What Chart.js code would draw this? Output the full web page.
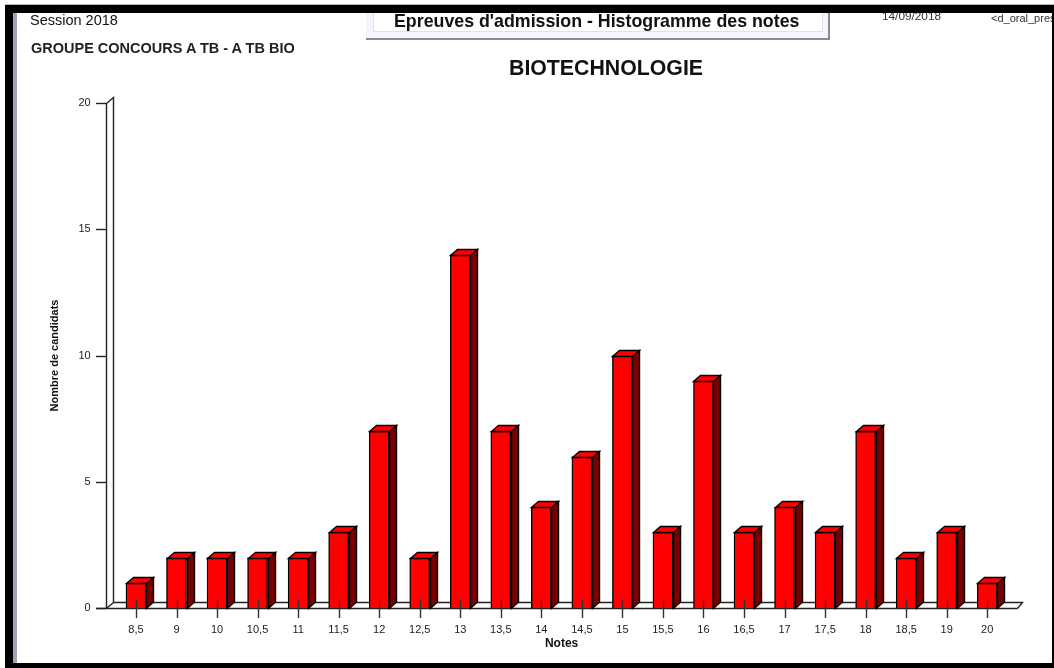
<!DOCTYPE html>
<html><head><meta charset="utf-8">
<script src="https://cdn.jsdelivr.net/npm/chart.js@4"></script>
<style>
html,body{margin:0;padding:0;background:#fff;width:1054px;height:668px;overflow:hidden;font-family:"Liberation Sans",Arial,sans-serif;color:#111}
#wrap{position:absolute;left:0;top:0;width:1054px;height:668px}
canvas{position:absolute;left:0;top:0}
.t{position:absolute;white-space:nowrap;line-height:1}
.b{position:absolute;background:#000}
</style></head><body>
<div id="wrap">
<canvas id="c" width="1054" height="668"></canvas>
<div class="t" style="left:30px;top:13px;font-size:14.5px">Session 2018</div>
<div class="t" style="left:31px;top:41px;font-size:14.5px;font-weight:bold;color:#222">GROUPE CONCOURS A TB - A TB BIO</div>
<div style="position:absolute;left:366px;top:8px;width:464px;height:32px;background:#f3f6fc;border-bottom:2px solid #8a8a8a;border-right:2px solid #8a8a8a;box-sizing:border-box">
 <div style="position:absolute;left:7px;top:0;right:5px;bottom:6px;background:#fff;border:1px solid #dfe1e6;box-sizing:border-box"></div>
</div>
<div class="t" style="left:394px;top:13px;font-size:17.8px;font-weight:bold">Epreuves d'admission - Histogramme des notes</div>
<div class="t" style="left:882px;top:11px;font-size:11.8px;color:#333">14/09/2018</div>
<div class="t" style="left:991px;top:13px;width:61px;overflow:hidden;font-size:11px;color:#333">&lt;d_oral_pres</div>
<div class="t" style="left:509px;top:58px;font-size:21.3px;font-weight:bold">BIOTECHNOLOGIE</div>
<div class="b" style="left:5px;top:5px;width:1049px;height:8px"></div>
<div style="position:absolute;left:5px;top:4px;width:1049px;height:1px;background:#bbb"></div>
<div class="b" style="left:5px;top:5px;width:8px;height:663px"></div>
<div style="position:absolute;left:13px;top:13px;width:4px;height:650px;background:#a89cc0"></div>
<div class="b" style="left:5px;top:663px;width:1049px;height:5px"></div>
<div class="b" style="left:1052px;top:5px;width:2px;height:663px"></div>
</div>
<script>
const categories=["8,5","9","10","10,5","11","11,5","12","12,5","13","13,5","14","14,5","15","15,5","16","16,5","17","17,5","18","18,5","19","20"];
const candidats=[1,2,2,2,2,3,7,2,14,7,4,6,10,3,9,3,4,3,7,2,3,1];
const yTicks=[0,5,10,15,20];
const DX=7,DY=6;
function line(ctx,pts,stroke){ctx.beginPath();pts.forEach((p,i)=>i?ctx.lineTo(p[0],p[1]):ctx.moveTo(p[0],p[1]));ctx.strokeStyle=stroke||'#222';ctx.lineWidth=1.4;ctx.stroke();}
function poly(ctx,pts,fill){ctx.beginPath();pts.forEach((p,i)=>i?ctx.lineTo(p[0],p[1]):ctx.moveTo(p[0],p[1]));ctx.closePath();ctx.fillStyle=fill;ctx.fill();ctx.strokeStyle='#000';ctx.lineWidth=1.4;ctx.stroke();}
const frame3d={id:'frame3d',
 beforeDatasetsDraw(ch){const c=ch.ctx,y=ch.scales.y,a=ch.chartArea;
  const y0=Math.round(y.getPixelForValue(0))+.5,yt=Math.round(y.getPixelForValue(20))+.5;
  const fl=a.left-9.5|0,fr=a.right+10|0;
  c.save();
  line(c,[[fl+.5,y0],[fl+.5,yt],[fl+DX+.5,yt-DY],[fl+DX+.5,y0-DY],[fl+.5,y0]]);
  line(c,[[fl+DX+.5,y0-DY],[fr+5.5,y0-DY],[fr+.5,y0]]);
  line(c,[[fl-10,y0],[fr+.5,y0]]);
  yTicks.forEach(v=>{const p=Math.round(y.getPixelForValue(v))+.5;line(c,[[fl-10,p],[fl,p]]);});
  c.restore();},
 afterDatasetsDraw(ch){const c=ch.ctx,m=ch.getDatasetMeta(0),y=ch.scales.y;const y0=Math.round(y.getPixelForValue(0));
  c.save();
  m.data.forEach(b=>{const p=b.getProps(['x','y','width'],true);const l=Math.round(p.x-p.width/2)+.5,r=l+20,t=Math.round(p.y)+.5;
   poly(c,[[r,t],[r+DX,t-DY],[r+DX,y0-DY],[r,y0+.5]],'#7a0000');
   poly(c,[[l,t],[l+DX,t-DY],[r+DX,t-DY],[r,t]],'#ff0000');
   const tx=Math.round(p.x)+.5;line(c,[[tx,y0-8],[tx,y0+10]],'#333');
  });
  c.restore();}
};
new Chart(document.getElementById('c'),{
 type:'bar',
 data:{labels:categories,datasets:[{label:'Nombre de candidats',data:candidats,backgroundColor:'#ff0000',borderColor:'#000',borderWidth:1.4,barThickness:20}]},
 plugins:[frame3d],
 options:{responsive:false,animation:false,
  layout:{padding:{left:48.5,top:103,right:46.5,bottom:17}},
  plugins:{legend:{display:false},tooltip:{enabled:false},title:{display:false}},
  scales:{
   x:{grid:{display:false,drawTicks:false},border:{display:false},
      ticks:{color:'#222',font:{family:'Liberation Sans',size:11},padding:15,maxRotation:0,autoSkip:false},
      title:{display:true,text:'Notes',color:'#111',font:{family:'Liberation Sans',size:12,weight:'bold'},padding:{top:3,bottom:0}},
      afterFit(s){s.height=43;}},
   y:{min:0,max:20,grid:{display:false,drawTicks:false},border:{display:false},
      afterBuildTicks(s){s.ticks=yTicks.map(v=>({value:v}));},
      ticks:{color:'#222',font:{family:'Liberation Sans',size:11},padding:25},
      title:{display:true,text:'Nombre de candidats',color:'#111',font:{family:'Liberation Sans',size:11,weight:'bold'},padding:{top:0,bottom:0}},
      afterFit(s){s.width=67.2;}}
  }}
});
</script>
</body></html>
